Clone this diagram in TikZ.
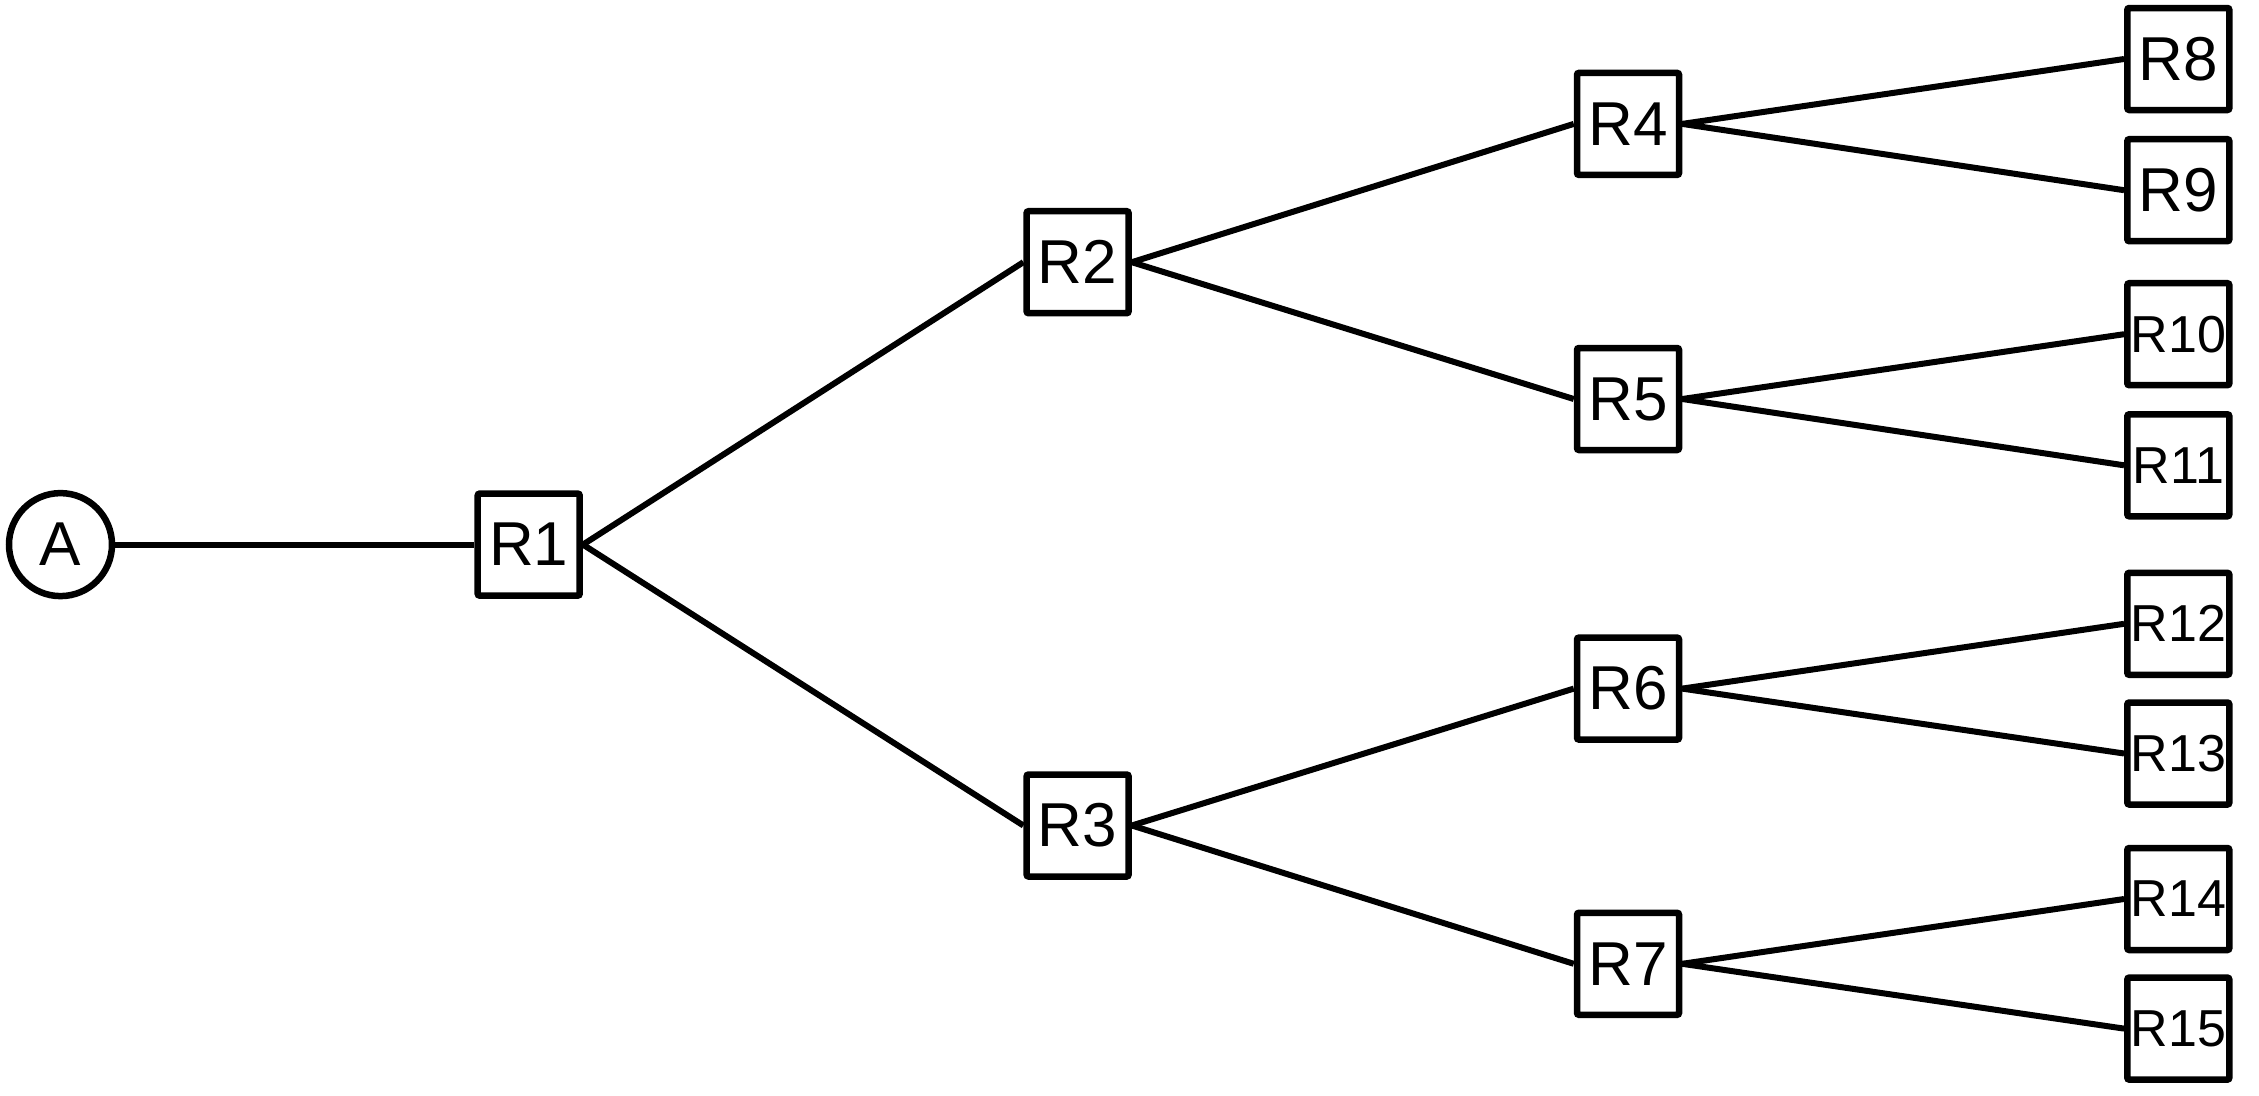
\documentclass[tikz,border=0pt]{standalone}
\usepackage{fontspec}
\setmainfont{Liberation Sans}
\begin{document}
\begin{tikzpicture}[x=1pt,y=-1pt,
  rbox/.style={draw=black,line width=6.5pt,rounded corners=2pt,fill=white,
    minimum width=102pt,minimum height=102pt,inner sep=0pt,
    font=\fontsize{62}{68}\selectfont},
  wide/.style={font=\fontsize{52}{58}\selectfont},
  rcirc/.style={draw=black,line width=6.5pt,circle,fill=white,
    minimum size=103pt,inner sep=0pt,font=\fontsize{62}{68}\selectfont},
  edge/.style={line width=6pt}]
\useasboundingbox (0,0) rectangle (2259,1095);
\node[rcirc] (A) at (60.5,544.6) {A};
\node[rbox] (R1) at (528.7,544.6) {R1};
\node[rbox] (R2) at (1077.6,262.2) {R2};
\node[rbox] (R3) at (1077.6,825.5) {R3};
\node[rbox] (R4) at (1628,123.9) {R4};
\node[rbox] (R5) at (1628,399) {R5};
\node[rbox] (R6) at (1628,688.6) {R6};
\node[rbox] (R7) at (1628,963.8) {R7};
\node[rbox] (R8) at (2178.3,59) {R8};
\node[rbox] (R9) at (2178.3,190.2) {R9};
\node[rbox,wide] (R10) at (2178.3,334.2) {R10};
\node[rbox,wide] (R11) at (2178.3,465.3) {R11};
\node[rbox,wide] (R12) at (2178.3,623.8) {R12};
\node[rbox,wide] (R13) at (2178.3,753.5) {R13};
\node[rbox,wide] (R14) at (2178.3,899) {R14};
\node[rbox,wide] (R15) at (2178.3,1028.6) {R15};
\draw[edge] (A.east) -- (R1.west);
\draw[edge] (R1.east) -- (R2.west);
\draw[edge] (R1.east) -- (R3.west);
\draw[edge] (R2.east) -- (R4.west);
\draw[edge] (R2.east) -- (R5.west);
\draw[edge] (R3.east) -- (R6.west);
\draw[edge] (R3.east) -- (R7.west);
\draw[edge] (R4.east) -- (R8.west);
\draw[edge] (R4.east) -- (R9.west);
\draw[edge] (R5.east) -- (R10.west);
\draw[edge] (R5.east) -- (R11.west);
\draw[edge] (R6.east) -- (R12.west);
\draw[edge] (R6.east) -- (R13.west);
\draw[edge] (R7.east) -- (R14.west);
\draw[edge] (R7.east) -- (R15.west);
\end{tikzpicture}
\end{document}
